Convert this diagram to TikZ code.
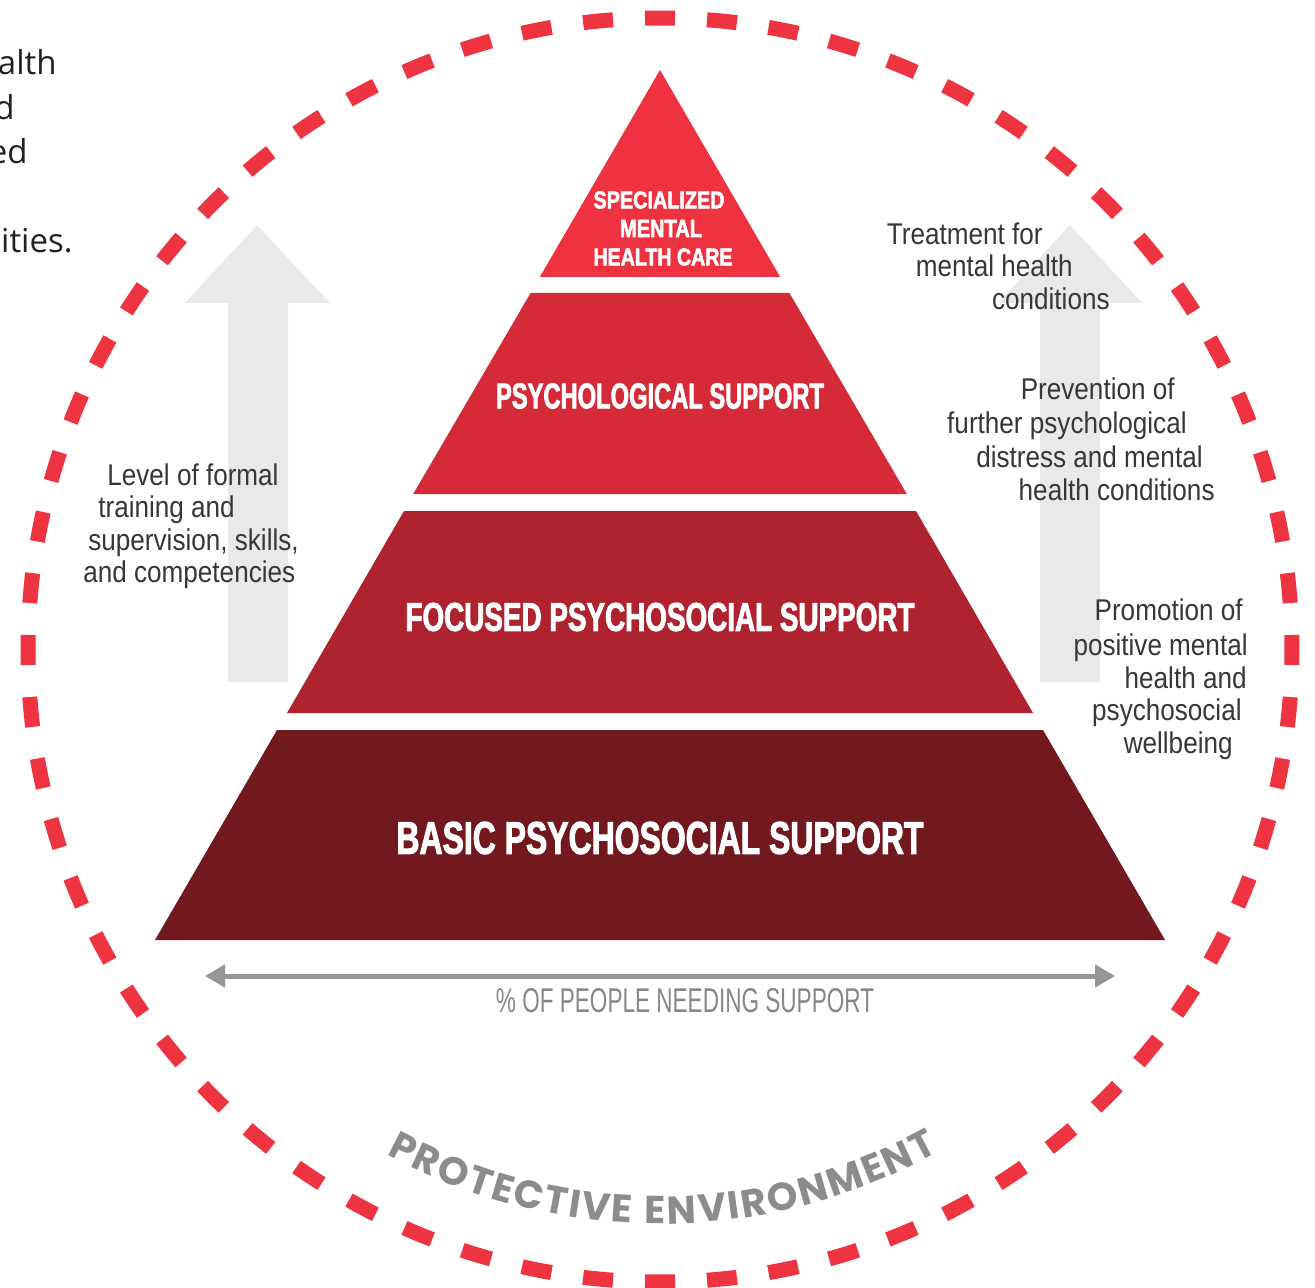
\documentclass[tikz,border=0pt]{standalone}
\usepackage{fontspec}
\usepackage{graphicx}
\usetikzlibrary{arrows.meta,decorations.text}
\setmainfont{Liberation Sans}
\newfontfamily\grayfont{Liberation Sans}[FakeStretch=0.87]
\newfontfamily\pyrfont{Liberation Sans}[FakeStretch=0.8, FakeBold=2.2]
\newfontfamily\protfont{Poppins}
\newfontfamily\parafont{Open Sans}
\definecolor{tierA}{RGB}{238,50,64}
\definecolor{tierB}{RGB}{213,43,57}
\definecolor{tierC}{RGB}{175,35,47}
\definecolor{tierD}{RGB}{114,24,31}
\definecolor{ringred}{RGB}{238,52,64}
\definecolor{arrowgray}{RGB}{233,233,233}
\definecolor{labelgray}{RGB}{55,55,55}
\definecolor{axisgray}{RGB}{150,150,150}
\definecolor{axistext}{RGB}{135,135,135}
\definecolor{protgray}{RGB}{140,140,140}
\definecolor{paratext}{RGB}{34,34,34}
\newcommand{\tierfit}[3]{\resizebox{#1}{#2}{\pyrfont\bfseries #3}}
\begin{document}
\begin{tikzpicture}[x=0.5pt,y=-0.5pt,
  sidelabel/.style={font=\grayfont\fontsize{15pt}{16pt}\selectfont, text=labelgray, inner sep=0pt},
  tiertext/.style={text=white, inner sep=0pt},
  ringdash/.style={draw=ringred, line width=7.5pt},
  bigarrow/.style={fill=arrowgray},
  paraline/.style={font=\parafont\fontsize{16.5pt}{20pt}\selectfont, text=paratext, inner sep=0pt, anchor=base east},
]
\useasboundingbox (0,0) rectangle (1315,1288);
\fill[white] (0,0) rectangle (1315,1288);

% paragraph fragments at the left edge
\begin{scope}
\clip (0,0) rectangle (1315,1288);
\node[paraline] (p1) at (57,75) {alth};
\node[paraline] (p2) at (15,120) {d};
\node[paraline] (p3) at (28,164) {ed};
\node[paraline] (p4) at (73,253) {ities.};
\end{scope}

% dashed ring
\coordinate (cc) at (660,650);
\foreach \i in {0,...,63}{
  \pgfmathsetmacro{\st}{\i*5.625-1.36}
  \draw[ringdash] (cc) ++(\st:632) arc[start angle=\st, delta angle=2.72, radius=632];
}

% big gray arrows
\fill[bigarrow] (228,682) -- (228,303) -- (185,303) -- (257,225) -- (330,303) -- (288,303) -- (288,682) -- cycle;
\fill[bigarrow] (1040,682) -- (1040,303) -- (998,303) -- (1070,225) -- (1142,303) -- (1100,303) -- (1100,682) -- cycle;

% pyramid tiers
\fill[tierA] (660,70) -- (780.2,277) -- (539.8,277) -- cycle;
\fill[tierB] (530.6,293) -- (789.4,293) -- (906.8,494) -- (413.2,494) -- cycle;
\fill[tierC] (404,511) -- (916,511) -- (1033,713) -- (287,713) -- cycle;
\fill[tierD] (277,730) -- (1043,730) -- (1165,940) -- (155,940) -- cycle;

\node[tiertext] (spec1) at (659,200) {\tierfit{65.5pt}{8.5pt}{SPECIALIZED}};
\node[tiertext] (spec2) at (661,228.5) {\tierfit{41pt}{8.5pt}{MENTAL}};
\node[tiertext] (spec3) at (663,257) {\tierfit{69.5pt}{8.5pt}{HEALTH CARE}};
\node[tiertext] (psych) at (660,396) {\tierfit{164pt}{12.5pt}{PSYCHOLOGICAL SUPPORT}};
\node[tiertext] (focus) at (660,617) {\tierfit{254.5pt}{14pt}{FOCUSED PSYCHOSOCIAL SUPPORT}};
\node[tiertext] (basic) at (660,838) {\tierfit{263.5pt}{16pt}{BASIC PSYCHOSOCIAL SUPPORT}};

% left label
\node[sidelabel, anchor=base west] (l1) at (107,485) {Level of formal};
\node[sidelabel, anchor=base west] (l2) at (98,517) {training and};
\node[sidelabel, anchor=base west] (l3) at (88,550) {supervision, skills,};
\node[sidelabel, anchor=base west] (l4) at (83,582) {and competencies};

% right labels
\node[sidelabel, anchor=base east] (t1) at (1043,245) {Treatment for};
\node[sidelabel, anchor=base east] (t2) at (1073,277) {mental health};
\node[sidelabel, anchor=base east] (t3) at (1110,310) {conditions};

\node[sidelabel, anchor=base east] (v1) at (1175,400) {Prevention of};
\node[sidelabel, anchor=base east] (v2) at (1187,433) {further psychological};
\node[sidelabel, anchor=base east] (v3) at (1203,467) {distress and mental};
\node[sidelabel, anchor=base east] (v4) at (1215,500) {health conditions};

\node[sidelabel, anchor=base east] (m1) at (1243,620) {Promotion of};
\node[sidelabel, anchor=base east] (m2) at (1248,655) {positive mental};
\node[sidelabel, anchor=base east] (m3) at (1247,688) {health and};
\node[sidelabel, anchor=base east] (m4) at (1242,720) {psychosocial};
\node[sidelabel, anchor=base east] (m5) at (1233,753) {wellbeing};

% axis arrow
\coordinate (axL) at (205,976);
\coordinate (axR) at (1115,976);
\draw[axisgray, line width=2.5pt, {Triangle[length=10pt,width=11pt]}-{Triangle[length=10pt,width=11pt]}] (axL) -- (axR);
\node[inner sep=0pt, text=axistext] (axlab) at (685,1001) {\resizebox{189pt}{12pt}{\grayfont \% OF PEOPLE NEEDING SUPPORT}};

% curved label
\path[decorate, decoration={text along path, text align={fit to path}, text color=protgray,
  text={|\protfont\bfseries\fontsize{19.5pt}{21pt}\selectfont|PROTECTIVE ENVIRONMENT}}]
  (cc) ++(118.5:574) arc[start angle=118.5, end angle=61, radius=574];
\end{tikzpicture}
\end{document}
